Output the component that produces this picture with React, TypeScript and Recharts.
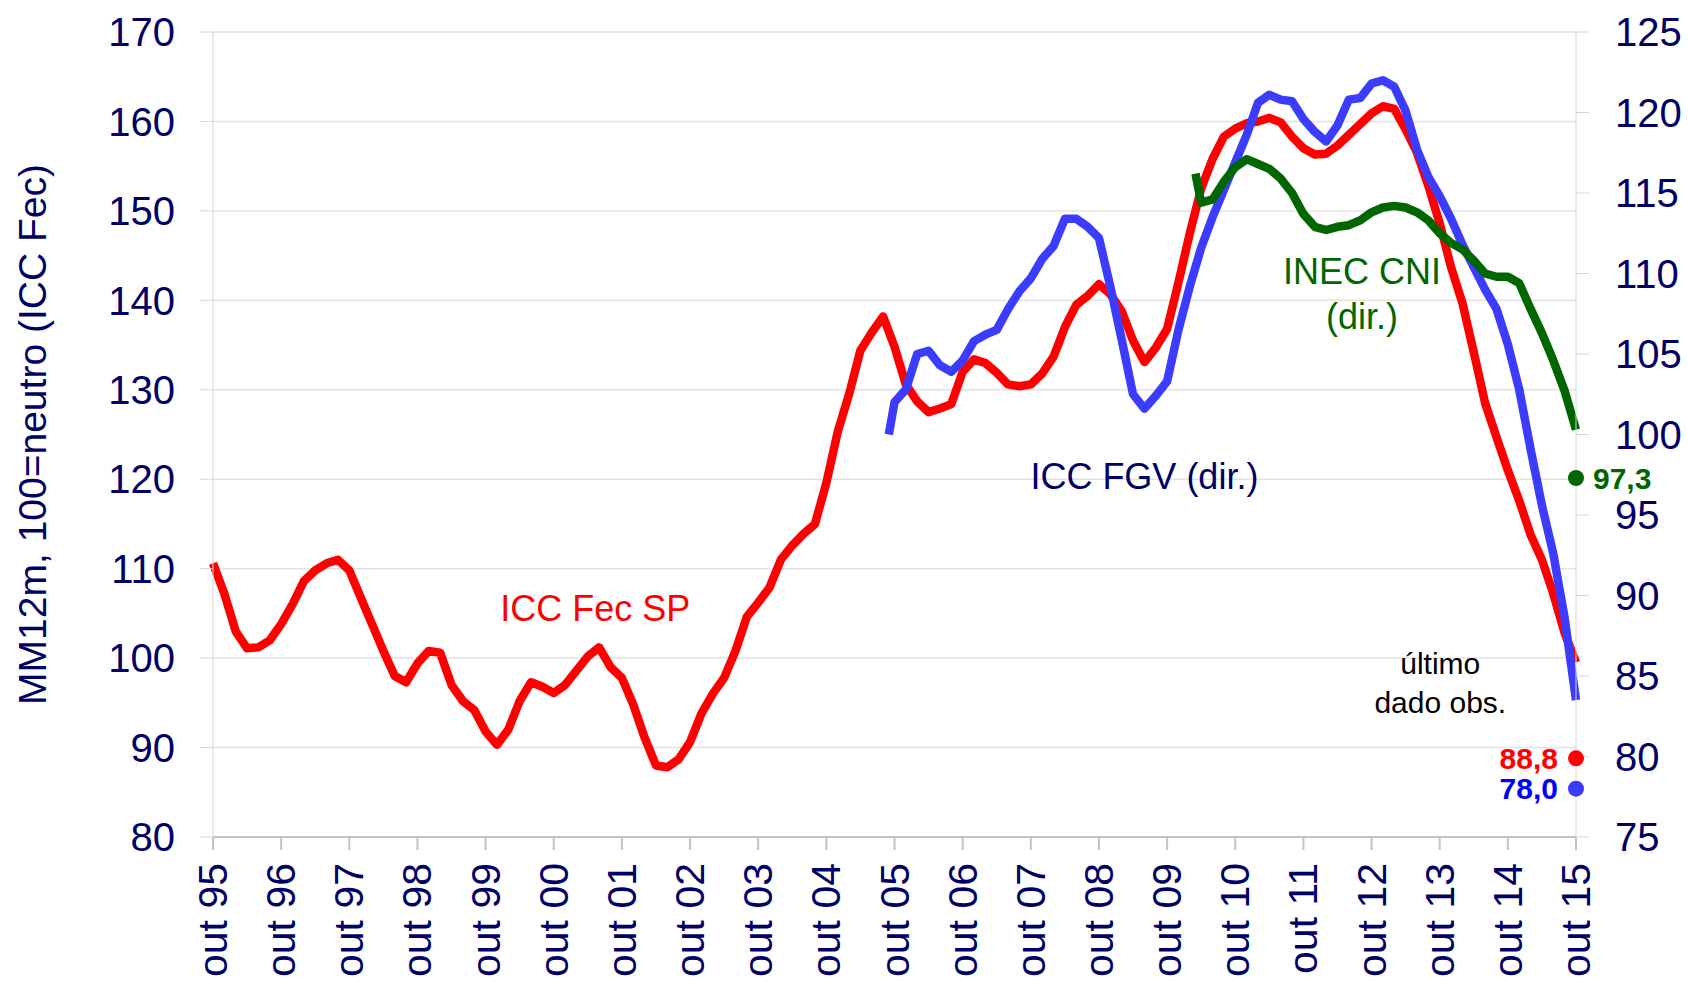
import { LineChart, Line, XAxis, YAxis, CartesianGrid, ReferenceDot } from "recharts";

const NAVY = "#000066";
const RED = "#ff0000";
const BLUE = "#3c3cff";
const GREEN = "#006600";
const FONT = "'Liberation Sans', Arial, sans-serif";

// months since out/95 -> tick labels
const TICK_MONTHS = [0, 12, 24, 36, 48, 60, 72, 84, 96, 108, 120, 132, 144, 156, 168, 180, 192, 204, 216, 228, 240];
const TICK_LABELS = [
  "out 95", "out 96", "out 97", "out 98", "out 99", "out 00", "out 01", "out 02", "out 03", "out 04",
  "out 05", "out 06", "out 07", "out 08", "out 09", "out 10", "out 11", "out 12", "out 13", "out 14", "out 15",
];
const LEFT_TICKS = [80, 90, 100, 110, 120, 130, 140, 150, 160, 170];
const RIGHT_TICKS = [75, 80, 85, 90, 95, 100, 105, 110, 115, 120, 125];

// ICC Fec SP (MM12m), left axis: [month, value]
const FEC_SP: [number, number][] = [
  [0, 110.6], [2, 107.2], [4, 103.0], [6, 101.1], [8, 101.2], [10, 102.0], [12, 103.8], [14, 106.0],
  [16, 108.6], [18, 109.8], [20, 110.6], [22, 111.0], [24, 109.8], [26, 106.8], [28, 103.8], [30, 100.8],
  [32, 98.0], [34, 97.3], [36, 99.4], [38, 100.8], [40, 100.6], [42, 97.0], [44, 95.2], [46, 94.2],
  [48, 91.8], [50, 90.3], [52, 92.0], [54, 95.2], [56, 97.3], [58, 96.8], [60, 96.1], [62, 97.0],
  [64, 98.6], [66, 100.2], [68, 101.2], [70, 99.0], [72, 97.8], [74, 94.8], [76, 91.1], [78, 88.0],
  [80, 87.8], [82, 88.7], [84, 90.6], [86, 93.8], [88, 96.0], [90, 97.8], [92, 100.8], [94, 104.6],
  [96, 106.2], [98, 107.9], [100, 111.0], [102, 112.6], [104, 113.9], [106, 115.0], [108, 119.6], [110, 125.3],
  [112, 129.5], [114, 134.4], [116, 136.4], [118, 138.2], [120, 134.8], [122, 130.6], [124, 128.7], [126, 127.5],
  [128, 127.9], [130, 128.4], [132, 132.0], [134, 133.4], [136, 133.0], [138, 131.9], [140, 130.6], [142, 130.4],
  [144, 130.6], [146, 131.8], [148, 133.7], [150, 137.0], [152, 139.5], [154, 140.5], [156, 141.8], [158, 140.7],
  [160, 138.8], [162, 135.5], [164, 133.1], [166, 134.7], [168, 136.8], [170, 142.0], [172, 147.5], [174, 152.5],
  [176, 155.8], [178, 158.3], [180, 159.2], [182, 159.8], [184, 160.0], [186, 160.4], [188, 159.9], [190, 158.3],
  [192, 157.0], [194, 156.3], [196, 156.4], [198, 157.3], [200, 158.5], [202, 159.7], [204, 160.9], [206, 161.7],
  [208, 161.4], [210, 159.1], [212, 156.5], [214, 152.8], [216, 148.6], [218, 143.7], [220, 139.7], [222, 134.2],
  [224, 128.5], [226, 124.7], [228, 121.0], [230, 117.6], [232, 113.8], [234, 111.0], [236, 107.2], [238, 102.8],
  [240, 99.5],
];

// ICC FGV, right axis
const ICC_FGV: [number, number][] = [
  [119, 100.0], [120, 102.0], [122, 102.8], [124, 105.0], [126, 105.2], [128, 104.3], [130, 103.9], [132, 104.6],
  [134, 105.8], [136, 106.2], [138, 106.5], [140, 107.8], [142, 108.9], [144, 109.7], [146, 110.9], [148, 111.7],
  [150, 113.4], [152, 113.4], [154, 112.9], [156, 112.2], [158, 109.2], [160, 105.9], [162, 102.5], [164, 101.6],
  [166, 102.4], [168, 103.3], [170, 106.5], [172, 109.2], [174, 111.6], [176, 113.5], [178, 115.2], [180, 116.9],
  [182, 118.6], [184, 120.6], [186, 121.1], [188, 120.8], [190, 120.7], [192, 119.6], [194, 118.8], [196, 118.2],
  [198, 119.2], [200, 120.8], [202, 120.9], [204, 121.8], [206, 122.0], [208, 121.6], [210, 120.1], [212, 117.7],
  [214, 116.0], [216, 114.8], [218, 113.4], [220, 111.8], [222, 110.4], [224, 109.0], [226, 107.8], [228, 105.6],
  [230, 102.8], [232, 99.1], [234, 95.6], [236, 92.6], [238, 88.6], [240, 83.5],
];

// INEC CNI, right axis
const INEC_CNI: [number, number][] = [
  [173, 116.2], [174, 114.4], [176, 114.6], [178, 115.7], [180, 116.6], [182, 117.1], [184, 116.8], [186, 116.5],
  [188, 115.9], [190, 115.0], [192, 113.7], [194, 112.9], [196, 112.7], [198, 112.9], [200, 113.0], [202, 113.3],
  [204, 113.8], [206, 114.1], [208, 114.2], [210, 114.1], [212, 113.8], [214, 113.3], [216, 112.5], [218, 111.9],
  [220, 111.5], [222, 110.8], [224, 110.0], [226, 109.8], [228, 109.8], [230, 109.4], [232, 107.8], [234, 106.3],
  [236, 104.6], [238, 102.7], [240, 100.3],
];

// último dado observado
const LAST_FEC = 88.8;
const LAST_FGV = 78.0;
const LAST_INEC = 97.3;

const toRows = (pts: [number, number][]) => pts.map(([m, v]) => ({ m, v }));

const XTick = ({ x, y, payload }: any) => {
  const i = TICK_MONTHS.indexOf(payload.value);
  return (
    <text
      transform={`translate(${x},${y}) rotate(-90)`}
      textAnchor="end"
      dominantBaseline="central"
      fontSize={41}
      fontFamily={FONT}
      fill={NAVY}
    >
      {TICK_LABELS[i]}
    </text>
  );
};

const note = (value: string, fill: string, fontSize: number) => ({
  value,
  position: "center" as const,
  fill,
  fontSize,
  fontFamily: FONT,
});

const lineStyle = { strokeWidth: 8.5, strokeLinejoin: "round" as const, strokeLinecap: "butt" as const };

export default function App() {
  return (
    <div style={{ position: "absolute", left: 0, top: 0, background: "#fff" }}>
      <LineChart width={1688} height={983} margin={{ top: 32, right: 0, bottom: 0, left: 0 }}>
        <CartesianGrid yAxisId="left" vertical={false} stroke="#e3e3e3" strokeWidth={1.5} />
        <XAxis
          dataKey="m"
          type="number"
          domain={[0, 240]}
          ticks={TICK_MONTHS}
          height={146}
          tick={<XTick />}
          tickSize={13}
          tickMargin={13}
          stroke="#c4c4c4"
          strokeWidth={2}
          interval={0}
        />
        <YAxis
          yAxisId="left"
          domain={[80, 170]}
          ticks={LEFT_TICKS}
          width={213}
          tickSize={13}
          tickMargin={25}
          stroke="#d6d6d6"
          tick={{ fill: NAVY, fontSize: 40, fontFamily: FONT }}
          label={{
            value: "MM12m, 100=neutro (ICC Fec)",
            angle: -90,
            position: "insideLeft",
            offset: 32,
            fill: NAVY,
            fontSize: 39,
            fontFamily: FONT,
            style: { textAnchor: "middle" },
          }}
        />
        <YAxis
          yAxisId="right"
          orientation="right"
          domain={[75, 125]}
          ticks={RIGHT_TICKS}
          width={112}
          tickSize={13}
          tickMargin={26}
          stroke="#d6d6d6"
          tick={{ fill: NAVY, fontSize: 40, fontFamily: FONT }}
        />
        <Line data={toRows(FEC_SP)} dataKey="v" yAxisId="left" stroke={RED} {...lineStyle} dot={false} isAnimationActive={false} />
        <Line data={toRows(ICC_FGV)} dataKey="v" yAxisId="right" stroke={BLUE} {...lineStyle} dot={false} isAnimationActive={false} />
        <Line data={toRows(INEC_CNI)} dataKey="v" yAxisId="right" stroke={GREEN} {...lineStyle} dot={false} isAnimationActive={false} />

        <ReferenceDot x={67.3} y={105.6} yAxisId="left" r={1} fill="none" stroke="none" label={note("ICC Fec SP", RED, 36)} />
        <ReferenceDot x={164} y={120.3} yAxisId="left" r={1} fill="none" stroke="none" label={note("ICC FGV (dir.)", NAVY, 36)} />
        <ReferenceDot x={202.3} y={143.3} yAxisId="left" r={1} fill="none" stroke="none" label={note("INEC CNI", GREEN, 36)} />
        <ReferenceDot x={202.3} y={138.2} yAxisId="left" r={1} fill="none" stroke="none" label={note("(dir.)", GREEN, 36)} />
        <ReferenceDot x={216.1} y={99.45} yAxisId="left" r={1} fill="none" stroke="none" label={note("último", "#000", 30)} />
        <ReferenceDot x={216.1} y={95.1} yAxisId="left" r={1} fill="none" stroke="none" label={note("dado obs.", "#000", 30)} />

        <ReferenceDot
          x={240}
          y={LAST_FEC}
          yAxisId="left"
          r={8}
          fill={RED}
          stroke="none"
          label={{ value: "88,8", position: "left", offset: 10, fill: RED, fontSize: 30, fontWeight: "bold", fontFamily: FONT }}
        />
        <ReferenceDot
          x={240}
          y={LAST_FGV}
          yAxisId="right"
          r={8}
          fill={BLUE}
          stroke="none"
          label={{ value: "78,0", position: "left", offset: 10, fill: "#0000ff", fontSize: 30, fontWeight: "bold", fontFamily: FONT }}
        />
        <ReferenceDot
          x={240}
          y={LAST_INEC}
          yAxisId="right"
          r={8}
          fill={GREEN}
          stroke="none"
          label={{ value: "97,3", position: "right", offset: 9, fill: GREEN, fontSize: 30, fontWeight: "bold", fontFamily: FONT }}
        />
      </LineChart>
    </div>
  );
}
